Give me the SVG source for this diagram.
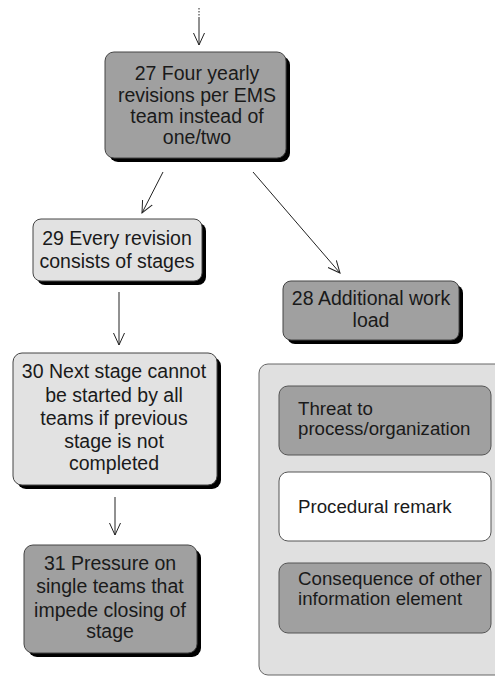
<svg xmlns="http://www.w3.org/2000/svg" width="495" height="677" viewBox="0 0 495 677">
  <style>
    .node text { font-family: "Liberation Sans", Arial, sans-serif; font-size: 19.5px; fill: #1a1a1a; text-anchor: middle; }
    .shadow { fill: #000; }
    .dark { fill: #a0a0a0; stroke: #444; stroke-width: 1; }
    .light { fill: #e2e2e2; stroke: #444; stroke-width: 1; }
    .edge { stroke: #222; stroke-width: 1; fill: none; }
    .legend text { font-family: "Liberation Sans", Arial, sans-serif; font-size: 18.7px; fill: #1a1a1a; }
    .panel { fill: #e0e0e0; stroke: #666; stroke-width: 1; }
    .key-dark { fill: #a0a0a0; stroke: #555; stroke-width: 1; }
    .key-white { fill: #ffffff; stroke: #555; stroke-width: 1; }
  </style>
  <defs>
    <marker id="vhead" markerWidth="14" markerHeight="14" refX="12" refY="6" orient="auto" markerUnits="userSpaceOnUse">
      <path d="M0,0.5 L12,6 L0,11.5" fill="none" stroke="#222" stroke-width="1"/>
    </marker>
  </defs>

  <rect width="495" height="677" fill="#ffffff"/>

  <!-- connectors -->
  <g id="connectors">
    <line class="edge" x1="199" y1="8" x2="199" y2="17" stroke-dasharray="1.5,1.5"/>
    <line class="edge" x1="199" y1="17" x2="199" y2="45" marker-end="url(#vhead)"/>
    <line class="edge" x1="163" y1="172" x2="142" y2="213" marker-end="url(#vhead)"/>
    <line class="edge" x1="253" y1="172" x2="340" y2="273" marker-end="url(#vhead)"/>
    <line class="edge" x1="119" y1="292" x2="119" y2="345" marker-end="url(#vhead)"/>
    <line class="edge" x1="115" y1="497" x2="115" y2="535" marker-end="url(#vhead)"/>
  </g>

  <!-- 27 -->
  <g id="n27" class="node">
    <rect class="shadow" x="109" y="56" width="181" height="106" rx="9"/>
    <rect class="dark" x="105" y="52" width="181" height="106" rx="9"/>
    <text x="197" y="80">27 Four yearly</text>
    <text x="197" y="102">revisions per EMS</text>
    <text x="197" y="123">team instead of</text>
    <text x="197" y="144">one/two</text>
  </g>

  <!-- 29 -->
  <g id="n29" class="node">
    <rect class="shadow" x="37" y="223" width="169" height="62" rx="8"/>
    <rect class="light" x="33" y="219" width="169" height="62" rx="8"/>
    <text x="117" y="245">29 Every revision</text>
    <text x="117" y="268">consists of stages</text>
  </g>

  <!-- 28 -->
  <g id="n28" class="node">
    <rect class="shadow" x="287" y="285" width="176" height="59" rx="8"/>
    <rect class="dark" x="283" y="281" width="176" height="59" rx="8"/>
    <text x="371" y="305">28 Additional work</text>
    <text x="371" y="327">load</text>
  </g>

  <!-- 30 -->
  <g id="n30" class="node">
    <rect class="shadow" x="17" y="357" width="204" height="132" rx="9"/>
    <rect class="light" x="13" y="353" width="204" height="132" rx="9"/>
    <text x="114" y="378">30 Next stage cannot</text>
    <text x="114" y="402">be started by all</text>
    <text x="114" y="425">teams if previous</text>
    <text x="114" y="448">stage is not</text>
    <text x="114" y="470">completed</text>
  </g>

  <!-- 31 -->
  <g id="n31" class="node">
    <rect class="shadow" x="28" y="549" width="173" height="108" rx="9"/>
    <rect class="dark" x="24" y="545" width="173" height="108" rx="9"/>
    <text x="110" y="570">31 Pressure on</text>
    <text x="110" y="593">single teams that</text>
    <text x="110" y="617">impede closing of</text>
    <text x="110" y="638">stage</text>
  </g>

  <!-- legend -->
  <g id="legend" class="legend">
    <rect class="panel" x="259" y="364" width="250" height="311" rx="9"/>
    <rect class="key-dark" x="279" y="386" width="212" height="69" rx="9"/>
    <text x="298" y="415">Threat to</text>
    <text x="298" y="435">process/organization</text>
    <rect class="key-white" x="279" y="472" width="212" height="69" rx="9"/>
    <text x="298" y="513">Procedural remark</text>
    <rect class="key-dark" x="279" y="563" width="212" height="70" rx="9"/>
    <text x="298" y="585">Consequence of other</text>
    <text x="298" y="605">information element</text>
  </g>
</svg>
